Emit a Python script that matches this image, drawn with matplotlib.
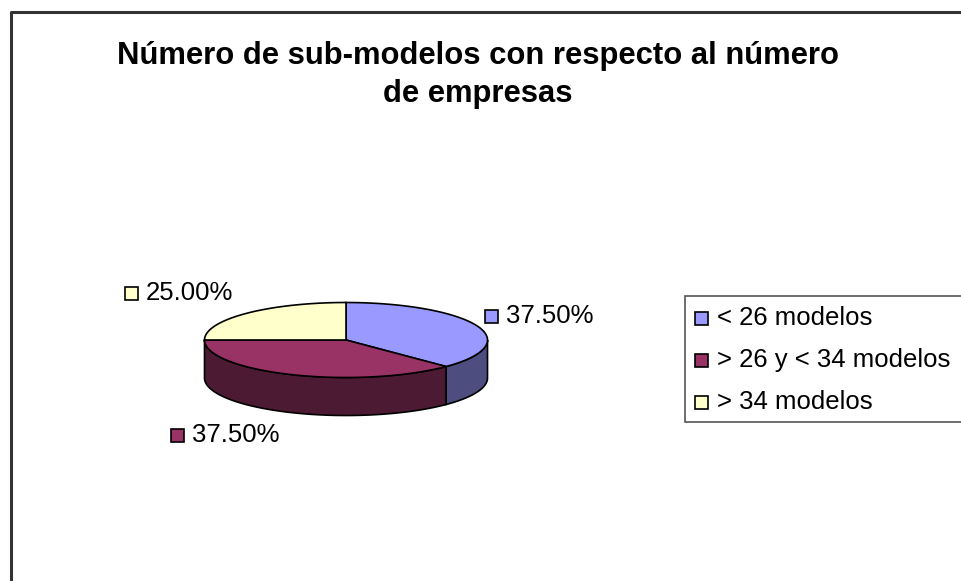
import numpy as np
import matplotlib
matplotlib.use('Agg')
import matplotlib.pyplot as plt
from matplotlib.patches import Polygon, Rectangle

plt.rcParams['font.family'] = ['Liberation Sans', 'DejaVu Sans']

# datos
categorias = ['< 26 modelos', '> 26 y < 34 modelos', '> 34 modelos']
valores = [37.5, 37.5, 25.0]
etiquetas = ['37.50%', '37.50%', '25.00%']
titulo = ['Número de sub-modelos con respecto al número', 'de empresas']

# colores tipo Excel (cara superior / lateral)
col_top = ['#9999FF', '#993366', '#FFFFCC']
col_side = ['#4D4D80', '#4D1A33', '#80806A']

# geometria (pixeles)
cx, cy = 346, 340
ra, rb = 141.5, 37.5
depth = 38
start = 90.0

# posiciones de etiquetas (cuadrado a la izquierda del texto)
lab_pos = [(485, 316), (171, 435), (125, 293)]

fig = plt.figure(figsize=(9.61, 5.81), dpi=100)
ax = fig.add_axes([0, 0, 1, 1])
ax.set_xlim(0, 961)
ax.set_ylim(581, 0)
ax.axis('off')


def arc(t0, t1, dy=0.0, n=80):
    t = np.radians(np.linspace(t0, t1, n))
    return np.column_stack([cx + ra * np.cos(t), cy - rb * np.sin(t) + dy])


# angulos de cada sector (sentido horario desde arriba)
total = sum(valores)
angs = []
a0 = start
for v in valores:
    a1 = a0 - 360.0 * v / total
    angs.append((a0, a1))
    a0 = a1

# paredes laterales (solo la parte frontal)
for i, (a0, a1) in enumerate(angs):
    s = max(a1, -180.0)
    e = min(a0, 0.0)
    if s < e:
        top = arc(e, s)
        bot = arc(s, e, dy=depth)
        ax.add_patch(Polygon(np.vstack([top, bot]), closed=True, facecolor=col_side[i],
                             edgecolor='black', linewidth=1.2, zorder=2))

# caras superiores
for i, (a0, a1) in enumerate(angs):
    pts = np.vstack([[cx, cy], arc(a0, a1)])
    ax.add_patch(Polygon(pts, closed=True, facecolor=col_top[i],
                         edgecolor='black', linewidth=1.2, zorder=3))

# etiquetas de datos
fs = 18.5
for i, (lx, ly) in enumerate(lab_pos):
    ax.add_patch(Rectangle((lx, ly - 6.5), 13, 13, facecolor=col_top[i],
                           edgecolor='black', linewidth=1.2, zorder=4))
    ax.text(lx + 21, ly, etiquetas[i], fontsize=fs, va='center', ha='left', zorder=4)

# leyenda
ax.add_patch(Rectangle((685, 296), 290, 126, facecolor='white', edgecolor='#555555',
                       linewidth=1.2, zorder=1))
for i, cat in enumerate(categorias):
    y = 318 + 42 * i
    ax.add_patch(Rectangle((695, y - 6.5), 13, 13, facecolor=col_top[i],
                           edgecolor='black', linewidth=1.2, zorder=4))
    ax.text(717, y, cat, fontsize=fs, va='center', ha='left', zorder=4)

# marco del grafico
ax.plot([11, 11, 970], [590, 12, 12], color='#333333', linewidth=2.2, zorder=5,
        solid_capstyle='projecting', clip_on=False)

for k, linea in enumerate(titulo):
    ax.text(478, 64 + 38 * k, linea, fontsize=22.3, fontweight='bold', ha='center',
            va='baseline', zorder=4)

plt.savefig('out.png', dpi=100)
